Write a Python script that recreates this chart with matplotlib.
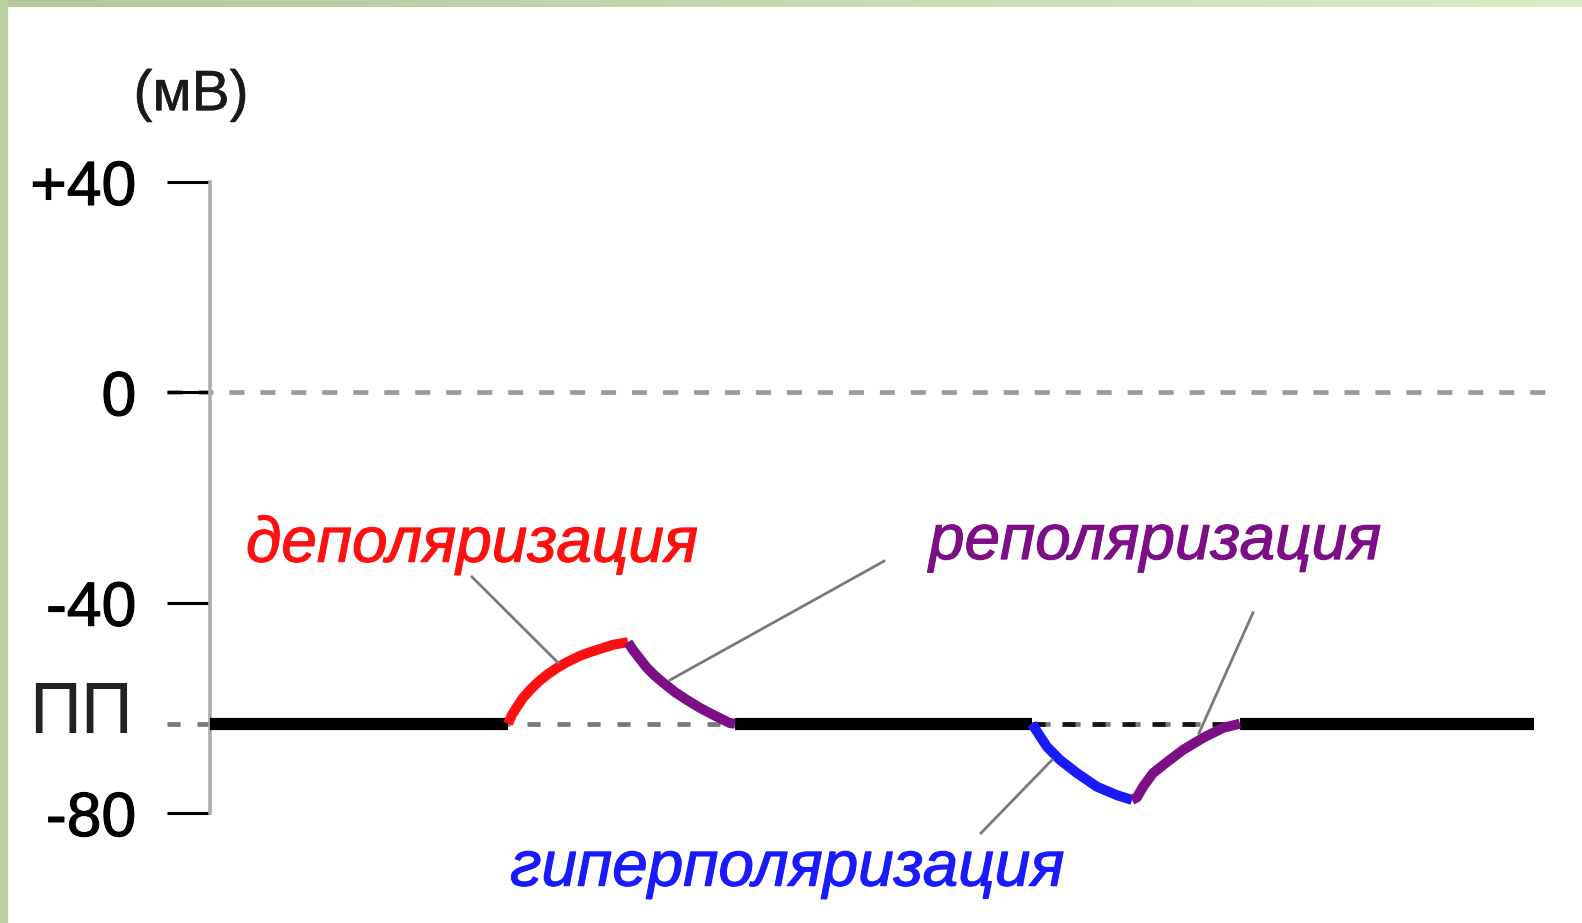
import numpy as np
import matplotlib.pyplot as plt
import matplotlib.patheffects as pe
from matplotlib.patches import Rectangle

# Resting potential (ПП) in mV and the times/potentials of each piece of the trace.
# Time is in arbitrary units, the axis starts at t = 0.
rest = -63.0

base1_t = [0.0, 29.8]
base2_t = [52.5, 82.2]
base3_t = [103.0, 132.4]

depol_t = [29.8, 30.2, 30.7, 31.3, 32.0, 32.8, 33.7, 34.7, 35.7, 37.0, 38.0, 39.3, 40.3, 41.8]
depol_v = [-63.0, -61.3, -59.8, -58.1, -56.6, -55.1, -53.7, -52.4, -51.3, -50.1, -49.4, -48.6, -48.0, -47.5]

repol1_t = [41.8, 42.3, 43.0, 43.7, 44.5, 45.3, 46.5, 47.7, 49.0, 50.3, 52.0, 52.5]
repol1_v = [-47.5, -49.0, -50.7, -52.4, -53.9, -55.2, -57.0, -58.5, -60.0, -61.3, -62.9, -63.0]

hyper_t = [82.2, 82.8, 83.7, 85.0, 86.7, 88.7, 90.7, 92.2]
hyper_v = [-63.0, -64.8, -67.4, -69.9, -72.4, -75.0, -76.6, -77.5]

repol2_t = [92.2, 92.7, 93.3, 94.3, 95.7, 97.3, 99.3, 101.3, 103.0]
repol2_v = [-77.5, -77.0, -75.0, -72.4, -70.3, -68.0, -65.7, -63.8, -63.0]

# y ticks
tick_vals = [40, 0, -40, -80]
tick_labels = ['+40', '0', '-40', '-80']
tick_colors = ['#333333', '#8a8a8a', '#999999', '#444444']

# Leader lines from the labels to the curves: (t0, v0, t1, v1)
leader_depol = [26.2, -35.1, 34.8, -51.4]
leader_repol1 = [67.4, -32.1, 46.0, -54.7]
leader_repol2 = [104.3, -41.9, 98.9, -64.8]
leader_hyper = [77.1, -83.8, 84.2, -69.9]

RED = '#ff1010'
PURPLE = '#7d0f86'
BLUE = '#1a1aff'

plt.rcParams['font.family'] = ['Liberation Sans', 'DejaVu Sans']
plt.rcParams['lines.scale_dashes'] = False

fig = plt.figure(figsize=(15.82, 9.23), dpi=100)
fig.patch.set_facecolor('white')
ax = fig.add_axes([0, 0, 1, 1])
ax.patch.set_alpha(0)
ax.set_xlim(-21.0, 137.2)
ax.set_ylim(-100.9, 74.6)

# only the left spine is kept, placed at t = 0
for s in ['top', 'right', 'bottom']:
    ax.spines[s].set_visible(False)
ax.spines['left'].set_position(('data', 0))
ax.spines['left'].set_bounds(-80, 40)
ax.spines['left'].set_color('#ababab')
ax.spines['left'].set_linewidth(2.6)
ax.set_xticks([])
ax.set_yticks(tick_vals)
ax.set_yticklabels(tick_labels)
ax.tick_params(axis='y', direction='out', length=31, width=2.2, pad=22, labelsize=45)
for tk, c in zip(ax.yaxis.get_major_ticks(), tick_colors):
    tk.tick1line.set_color(c)
    tk.label1.set_path_effects([pe.withStroke(linewidth=0.8, foreground='black')])

# dashed reference lines at 0 and at the resting potential
ax.plot([-4.3, 133.5], [0, 0], color='#9a9a9a', lw=3.4, dashes=(10.8, 11.5), clip_on=False, zorder=1)
ax.plot([-4.3, 132.4], [rest, rest], color='#777777', lw=3.4, dashes=(9.4, 12.2), clip_on=False, zorder=1)
ax.plot([82.2, 103.0], [rest, rest], color='#111111', lw=3.4, dashes=(9.4, 12.2), zorder=1)

# the trace itself
for bt in [base1_t, base2_t, base3_t]:
    ax.plot(bt, [rest, rest], color='black', lw=8.8, solid_capstyle='butt', zorder=3)
for tt, vv, c in [(depol_t, depol_v, RED), (repol1_t, repol1_v, PURPLE),
                  (hyper_t, hyper_v, BLUE), (repol2_t, repol2_v, PURPLE)]:
    ax.plot(tt, vv, color=c, lw=7.2, solid_capstyle='butt', solid_joinstyle='round', zorder=4)

# leader lines
for ld in [leader_depol, leader_repol1, leader_repol2, leader_hyper]:
    ax.plot([ld[0], ld[2]], [ld[1], ld[3]], color='#7a7a7a', lw=2.0, zorder=5)

# labels
bold = lambda c, w=0.8: [pe.withStroke(linewidth=w, foreground=c)]
ax.text(3.6, -32.2, 'деполяризация', color=RED, fontsize=46, style='italic', va='baseline', ha='left',
        path_effects=bold(RED))
ax.text(71.9, -31.7, 'реполяризация', color=PURPLE, fontsize=46, style='italic', va='baseline', ha='left',
        path_effects=bold(PURPLE))
ax.text(30.0, -93.8, 'гиперполяризация', color=BLUE, fontsize=46, style='italic', va='baseline', ha='left',
        path_effects=bold(BLUE))
ax.text(-1.9, 56.5, '(мВ)', fontsize=41, ha='center', va='center', color='#1a1a1a',
        path_effects=bold('#1a1a1a', 0.4))
ax.text(-7.7, rest - 1.8, 'ПП', fontsize=52, ha='right', va='baseline', color='#222222')

# light green frame on the top and left edges
W, H = 1582, 923
top = np.linspace(0, 1, 64).reshape(1, -1)
bax = fig.add_axes([0, 1 - 7 / H, 1, 7 / H])
bax.imshow(top, aspect='auto', cmap=plt.matplotlib.colors.LinearSegmentedColormap.from_list('g', ['#b3c797', '#dcebc6']))
bax.axis('off')
fig.patches.append(Rectangle((0, 0), 7 / W, 1, transform=fig.transFigure, color='#bccfa2', zorder=2))

fig.savefig('out.png', dpi=100)
